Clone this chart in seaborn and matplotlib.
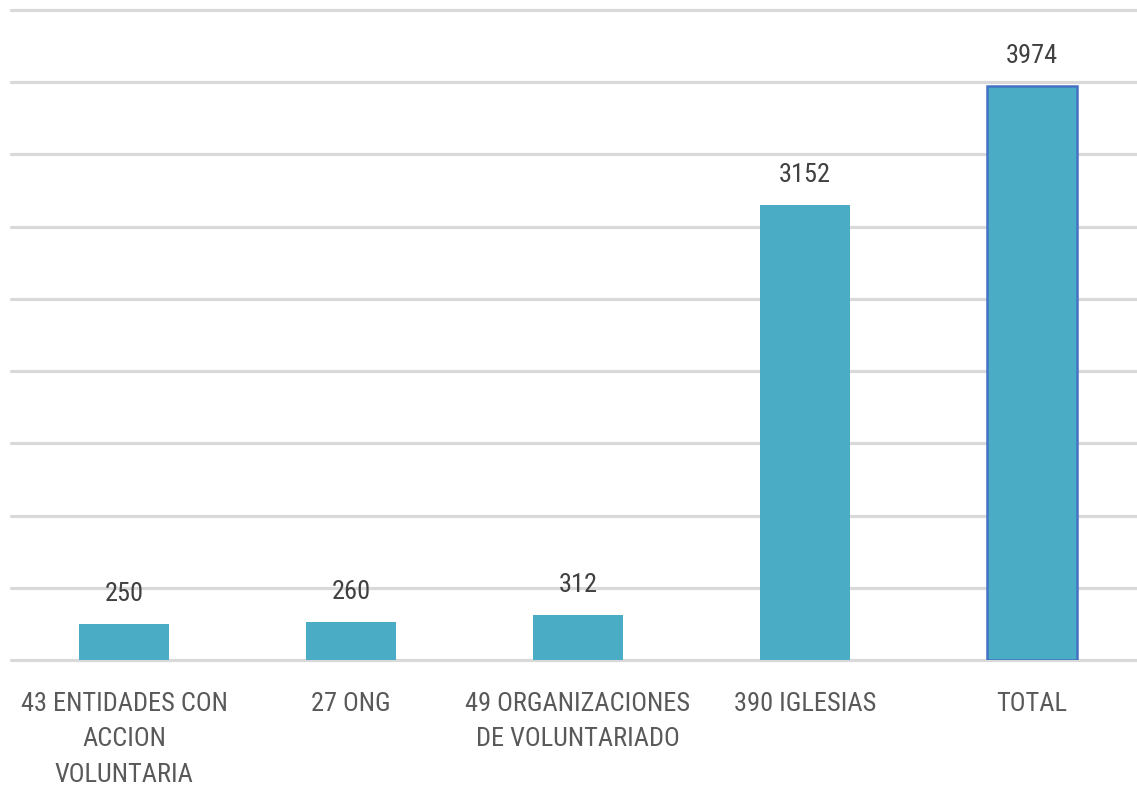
import matplotlib
matplotlib.use("Agg")
import matplotlib.pyplot as plt
import seaborn as sns

categories = ["43 ENTIDADES CON\nACCION\nVOLUNTARIA", "27 ONG",
              "49 ORGANIZACIONES\nDE VOLUNTARIADO", "390 IGLESIAS", "TOTAL"]
values = [250, 260, 312, 3152, 3974]

sns.set_theme(style="white")
plt.rcParams['font.family'] = ['Roboto Condensed', 'DejaVu Sans']
plt.rcParams['font.weight'] = 'normal'

fig = plt.figure(figsize=(11.37, 7.90), dpi=100)
ax = fig.add_axes([10.5/1137, 130/790, 1135/1137, 650/790])

sns.barplot(x=categories, y=values, color="#4BACC6", saturation=1, width=0.4, ax=ax, zorder=3,
            linewidth=0)
bars = ax.patches
bars[-1].set_edgecolor("#4472C4")
bars[-1].set_linewidth(1.8)

ax.set_ylim(0, 4500)
ax.set_yticks(range(0, 4501, 500))
ax.yaxis.grid(True, color="#D9D9D9", linewidth=2.3)
for gl in ax.get_ygridlines():
    gl.set_clip_on(False)
ax.set_axisbelow(True)
ax.tick_params(axis="y", left=False, labelleft=False)
ax.tick_params(axis="x", bottom=False, pad=17, labelsize=19, colors="#595959")
for lbl in ax.get_xticklabels():
    lbl.set_linespacing(1.6)
    lbl.set_horizontalalignment("center")
    lbl.set_verticalalignment("top")
for s in ax.spines.values():
    s.set_visible(False)
ax.set_xlabel("")
ax.set_ylabel("")

ax.bar_label(ax.containers[0], labels=[str(v) for v in values], padding=13,
             fontsize=19, color="#404040")

fig.savefig("out.png", dpi=100, facecolor="white")
